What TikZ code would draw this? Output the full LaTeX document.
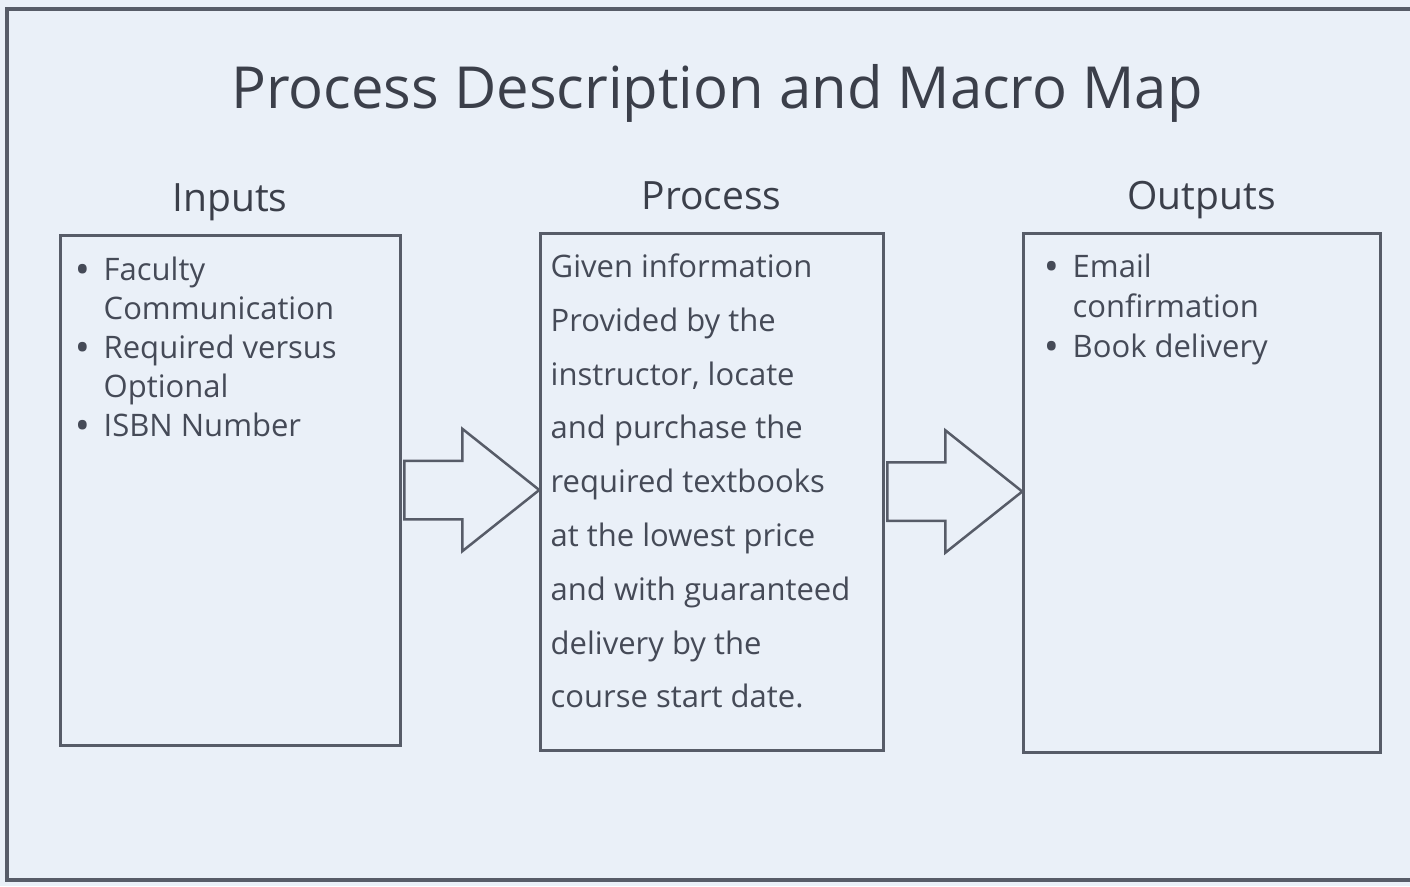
\documentclass[tikz,border=0pt]{standalone}
\usepackage{fontspec}
\setmainfont{Open Sans}
\usetikzlibrary{positioning,calc,shapes.arrows}
\definecolor{paper}{HTML}{EAF0F8}
\definecolor{ink}{HTML}{454A57}
\definecolor{frame}{HTML}{575C68}
\newcommand{\bul}{\makebox[27pt][l]{\textbf{\textbullet}}}
\newcommand{\ind}{\hspace*{27pt}}

\begin{document}
\begin{tikzpicture}[x=1pt,y=-1pt,
	box/.style={draw=frame, line width=3pt, fill=paper, inner sep=0pt},
	head/.style={text=ink!85!black, font=\fontsize{39}{44}\selectfont, anchor=base},
	body/.style={text=ink, align=left, inner sep=0pt, anchor=north west},
	bigarrow/.style={draw=frame, line width=2.5pt, fill=paper, single arrow, single arrow head extend=32pt, single arrow tip angle=77, inner xsep=0pt, inner ysep=28pt, minimum height=135pt, anchor=tail}]
	\fill[paper] (0,0) rectangle (1410,886);
	\useasboundingbox (0,0) rectangle (1410,886);
	\draw[frame, line width=4pt] (1410,9) -- (7,9) -- (7,880) -- (1410,880);

	\node[text=ink!85!black, font=\fontsize{58}{64}\selectfont, anchor=base] (title) at (717,108) {Process Description and Macro Map};

	\node[box, minimum width=340pt, minimum height=510pt] (inbox) at (230,490) {};
	\node[box, minimum width=343pt, minimum height=517pt] (procbox) at (711.5,491.5) {};
	\node[box, minimum width=357pt, minimum height=519pt] (outbox) at (1201.5,492.5) {};

	\node[head, above=22pt of inbox, anchor=base] (inhead) {Inputs};
	\node[head, above=22pt of procbox, anchor=base] (prochead) {Process};
	\node[head, above=22pt of outbox, anchor=base] (outhead) {Outputs};

	\node[body, font=\fontsize{31}{39}\selectfont] (intext) at ([xshift=18pt,yshift=-23pt]inbox.north west)
		{\bul Faculty\\ \ind Communication\\ \bul Required versus\\ \ind Optional\\ \bul ISBN Number};
	\node[body, font=\fontsize{31}{53.8}\selectfont] (proctext) at ([xshift=12pt,yshift=-22pt]procbox.north west)
		{Given information\\ Provided by the\\ instructor, locate\\ and purchase the\\ required textbooks\\ at the lowest price\\ and with guaranteed\\ delivery by the\\ course start date.};
	\node[body, font=\fontsize{31}{40}\selectfont] (outtext) at ([xshift=24pt,yshift=-22pt]outbox.north west)
		{\bul Email\\ \ind confirmation\\ \bul Book delivery};

	\node[bigarrow] (inarrow) at ([xshift=1.5pt]inbox.east) {};
	\node[bigarrow] (outarrow) at ([xshift=1.5pt]procbox.east) {};
\end{tikzpicture}
\end{document}
